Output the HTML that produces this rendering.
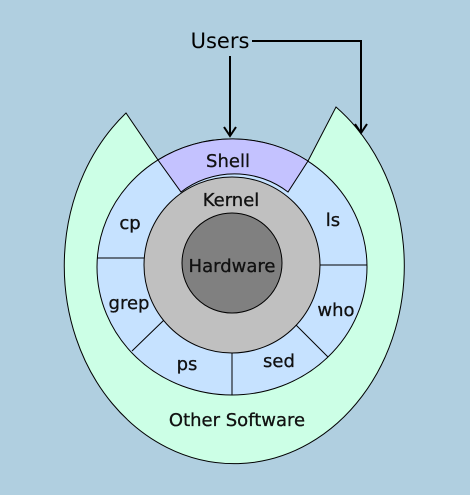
<!DOCTYPE html>
<html><head><style>html,body{margin:0;padding:0;background:#b0cfe0;}svg{display:block}</style></head><body>
<svg width="470" height="495" viewBox="0 0 470 495" xmlns="http://www.w3.org/2000/svg" font-family="DejaVu Sans, Liberation Sans, sans-serif">
<rect width="470" height="495" fill="#b0cfe0"/>
<path d="M126,113 A170,198 0 1 0 336,107 L308,161 L158,160 Z" fill="#ccffe6" stroke="#000" stroke-width="1"/>
<ellipse cx="232" cy="267" rx="135" ry="128" fill="#c6e2ff" stroke="#000" stroke-width="1"/>
<path d="M158,160 A135,128 0 0 1 308,161 L288,192 A88,88 0 0 0 181,192 Z" fill="#c4c2ff" stroke="#000" stroke-width="1"/>
<g stroke="#000" stroke-width="1">
<line x1="97" y1="258" x2="146" y2="258"/>
<line x1="318" y1="265" x2="367" y2="265"/>
<line x1="132" y1="351" x2="164" y2="320"/>
<line x1="232" y1="352" x2="232" y2="395"/>
<line x1="296" y1="325" x2="328" y2="357"/>
</g>
<circle cx="232" cy="265" r="88" fill="#c0c0c0" stroke="#000" stroke-width="1"/>
<circle cx="232" cy="263" r="50" fill="#808080" stroke="#000" stroke-width="1"/>
<g font-size="18" fill="#111" text-anchor="middle" stroke="#111" stroke-width="0.3">
<text x="228" y="167">Shell</text>
<text x="231" y="206">Kernel</text>
<text x="232" y="272">Hardware</text>
<text x="130" y="229">cp</text>
<text x="333" y="226">ls</text>
<text x="129" y="309">grep</text>
<text x="336" y="316">who</text>
<text x="187" y="370">ps</text>
<text x="279" y="367">sed</text>
<text x="237" y="426">Other Software</text>
</g>
<text x="220" y="48" font-size="21" fill="#000" text-anchor="middle">Users</text>
<g stroke="#000" stroke-width="2" fill="none">
<path d="M230,56 V136"/>
<path d="M224,127 L230,136 L236,127"/>
<path d="M252,41 H361 V133"/>
<path d="M355,124 L361,133 L367,124"/>
</g>
</svg>
</body></html>
